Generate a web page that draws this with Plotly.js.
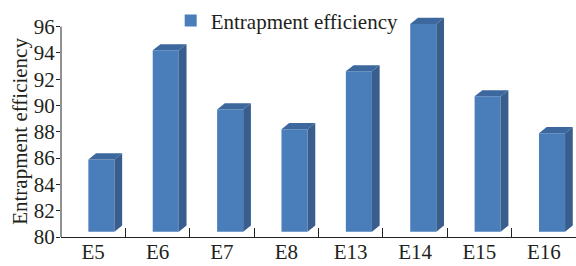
<!DOCTYPE html>
<html>
<head>
<meta charset="utf-8">
<script src="https://cdn.plot.ly/plotly-3.0.1.min.js"></script>
<style>html,body{margin:0;padding:0;background:#fff;}#chart{width:576px;height:266px;}</style>
</head>
<body>
<div id="chart"></div>
<script>
// ---- data ----
const categories = ['E5', 'E6', 'E7', 'E8', 'E13', 'E14', 'E15', 'E16'];
const efficiency = [85.9, 94.2, 89.7, 88.2, 92.6, 96.2, 90.7, 87.9];
const yTickValues = [80, 82, 84, 86, 88, 90, 92, 94, 96];
const seriesName = 'Entrapment efficiency';
const yTitle = 'Entrapment efficiency';

// ---- style / geometry (not data) ----
const FONT = 'Liberation Serif, Times New Roman, serif';
const TEXT = '#231f20';
const FRONT = '#4a7ebb';
const SIDE = '#395e8d';
const TOP = '#3c689d';
const barBase = 80.4;      // floor of the 3D bars
const barOffset = -0.075;  // front face left edge relative to category centre
const barWidth = 0.405;    // front face width (category units)
const depthX = 0.12;       // 3D depth, horizontal (category units)
const depthY = 0.47;       // 3D depth, vertical (value units)

// build side and top faces from the data values
const sideX = [], sideY = [], topX = [], topY = [];
efficiency.forEach((v, i) => {
  const xl = i + barOffset;
  const xr = xl + barWidth;
  sideX.push(xr, xr + depthX, xr + depthX, xr, xr, null);
  sideY.push(barBase, barBase + depthY, v + depthY, v, barBase, null);
  topX.push(xl, xr, xr + depthX, xl + depthX, xl, null);
  topY.push(v, v, v + depthY, v + depthY, v, null);
});

const traces = [
  {
    type: 'bar', x: categories, y: efficiency.map(v => v - barBase), base: barBase,
    offset: barOffset, width: barWidth, name: seriesName,
    marker: {color: FRONT, line: {width: 0}}, xaxis: 'x', yaxis: 'y', hoverinfo: 'skip'
  },
  {
    type: 'scatter', mode: 'lines', x: sideX, y: sideY, fill: 'toself', fillcolor: SIDE,
    line: {width: 0, color: SIDE}, showlegend: false, xaxis: 'x2', yaxis: 'y', hoverinfo: 'skip'
  },
  {
    type: 'scatter', mode: 'lines', x: topX, y: topY, fill: 'toself', fillcolor: TOP,
    line: {width: 0, color: TOP}, showlegend: false, xaxis: 'x2', yaxis: 'y', hoverinfo: 'skip'
  }
];

const layout = {
  width: 576, height: 266,
  margin: {l: 61, r: 0, t: 0, b: 29, pad: 0},
  paper_bgcolor: '#fff', plot_bgcolor: 'rgba(0,0,0,0)',
  font: {family: FONT, color: TEXT, size: 21},
  showlegend: true,
  legend: {
    x: 0.213, y: 0.924, xanchor: 'left', yanchor: 'middle',
    bgcolor: 'rgba(0,0,0,0)', font: {family: FONT, size: 21, color: TEXT}
  },
  xaxis: {
    type: 'category', categoryorder: 'array', categoryarray: categories,
    range: [-0.5, 7.5], tickson: 'boundaries', ticks: 'inside', ticklen: 9,
    tickcolor: '#222', showline: true, linecolor: '#222', linewidth: 1, ticklabelstandoff: -4,
    showgrid: false, zeroline: false, tickfont: {family: FONT, size: 21, color: TEXT},
    fixedrange: true
  },
  xaxis2: {
    overlaying: 'x', anchor: 'y', range: [-0.5, 7.5], visible: false, fixedrange: true
  },
  yaxis: {
    range: [80, 97.8], tickvals: yTickValues, ticktext: yTickValues.map(String),
    ticks: 'outside', ticklen: 4, tickcolor: '#222', showline: false, ticklabelstandoff: -3,
    showgrid: false, zeroline: false, tickfont: {family: FONT, size: 21, color: TEXT},
    fixedrange: true
  },
  annotations: [
    {text: yTitle, xref: 'paper', yref: 'y', x: -41 / 515, y: 88, xanchor: 'center', yanchor: 'middle',
     textangle: -90, showarrow: false, font: {family: FONT, size: 21, color: TEXT}}
  ],
  shapes: [
    {type: 'line', xref: 'paper', yref: 'y', x0: 0, x1: 0, y0: 80, y1: 96,
     line: {color: '#222', width: 1}}
  ]
};

Plotly.newPlot('chart', traces, layout, {displayModeBar: false, staticPlot: true});
</script>
</body>
</html>
